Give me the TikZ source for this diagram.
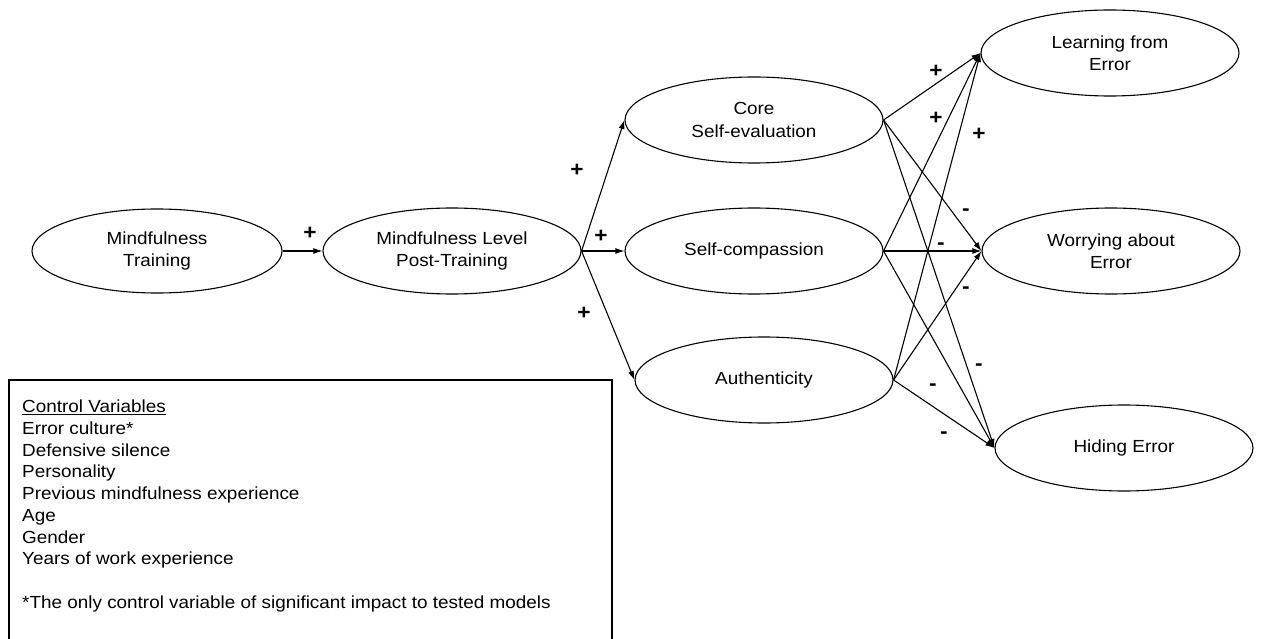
\documentclass[tikz,border=0pt]{standalone}
\usepackage{fontspec}
\setmainfont{Liberation Sans}[FakeStretch=1.08]
\usetikzlibrary{shapes.geometric,arrows.meta}
\begin{document}
\begin{tikzpicture}[x=1pt,y=-1pt,
  every node/.style={font=\fontsize{17.5}{22.5}\selectfont},
  oval/.style={draw,ellipse,line width=1.1pt,minimum width=258pt,minimum height=86pt,inner sep=0pt,align=center},
  link/.style={line width=1.1pt,-{Latex[length=9pt,width=6pt]}},
  sign/.style={inner sep=0pt,font=\fontsize{21}{22}\selectfont\bfseries}]
\clip (0,0) rectangle (1261,639);
\fill[white] (0,0) rectangle (1261,639);

% constructs
\node[oval,minimum width=250pt,minimum height=84pt] (mt) at (157,251) {Mindfulness\\Training};
\node[oval] (ml) at (452,251) {Mindfulness Level\\Post-Training};
\node[oval] (cse) at (754,120) {Core\\Self-evaluation};
\node[oval] (sc) at (754,251) {Self-compassion};
\node[oval] (au) at (764,380) {Authenticity};
\node[oval] (lfe) at (1110,53) {Learning from\\Error};
\node[oval] (wae) at (1111,251) {Worrying about\\Error};
\node[oval] (he) at (1124,448) {Hiding Error};

% paths
\draw[link] (mt.east) -- (ml.west);
\draw[link] (ml.east) -- (cse.west);
\draw[link] (ml.east) -- (sc.west);
\draw[link] (ml.east) -- (au.west);
\foreach \s in {cse,sc,au}{
  \draw[link] (\s.east) -- (lfe.west);
  \draw[link] (\s.east) -- (wae.west);
  \draw[link] (\s.east) -- (he.west);
}

% effect signs
\node[sign] (s1) at (310,233) {+};
\node[sign] (s2) at (577,170) {+};
\node[sign] (s3) at (601,236) {+};
\node[sign] (s4) at (584,313) {+};
\node[sign] (s5) at (936,71) {+};
\node[sign] (s6) at (936,118) {+};
\node[sign] (s7) at (979,134) {+};
\node[sign] (s8) at (966,212) {-};
\node[sign] (s9) at (941,246) {-};
\node[sign] (s10) at (966,290) {-};
\node[sign] (s11) at (979,367) {-};
\node[sign] (s12) at (933,387) {-};
\node[sign] (s13) at (944,435) {-};

% control variables box
\draw[line width=1.1pt] (9,660) -- (9,380) -- (612,380) -- (612,660);
\node[anchor=north west,align=left,inner sep=0pt,font=\fontsize{17.5}{21.7}\selectfont] (cv) at (22,400)
  {\underline{Control Variables}\\
   Error culture*\\
   Defensive silence\\
   Personality\\
   Previous mindfulness experience\\
   Age\\
   Gender\\
   Years of work experience\\[21.7pt]
   *The only control variable of significant impact to tested models};
\end{tikzpicture}
\end{document}
